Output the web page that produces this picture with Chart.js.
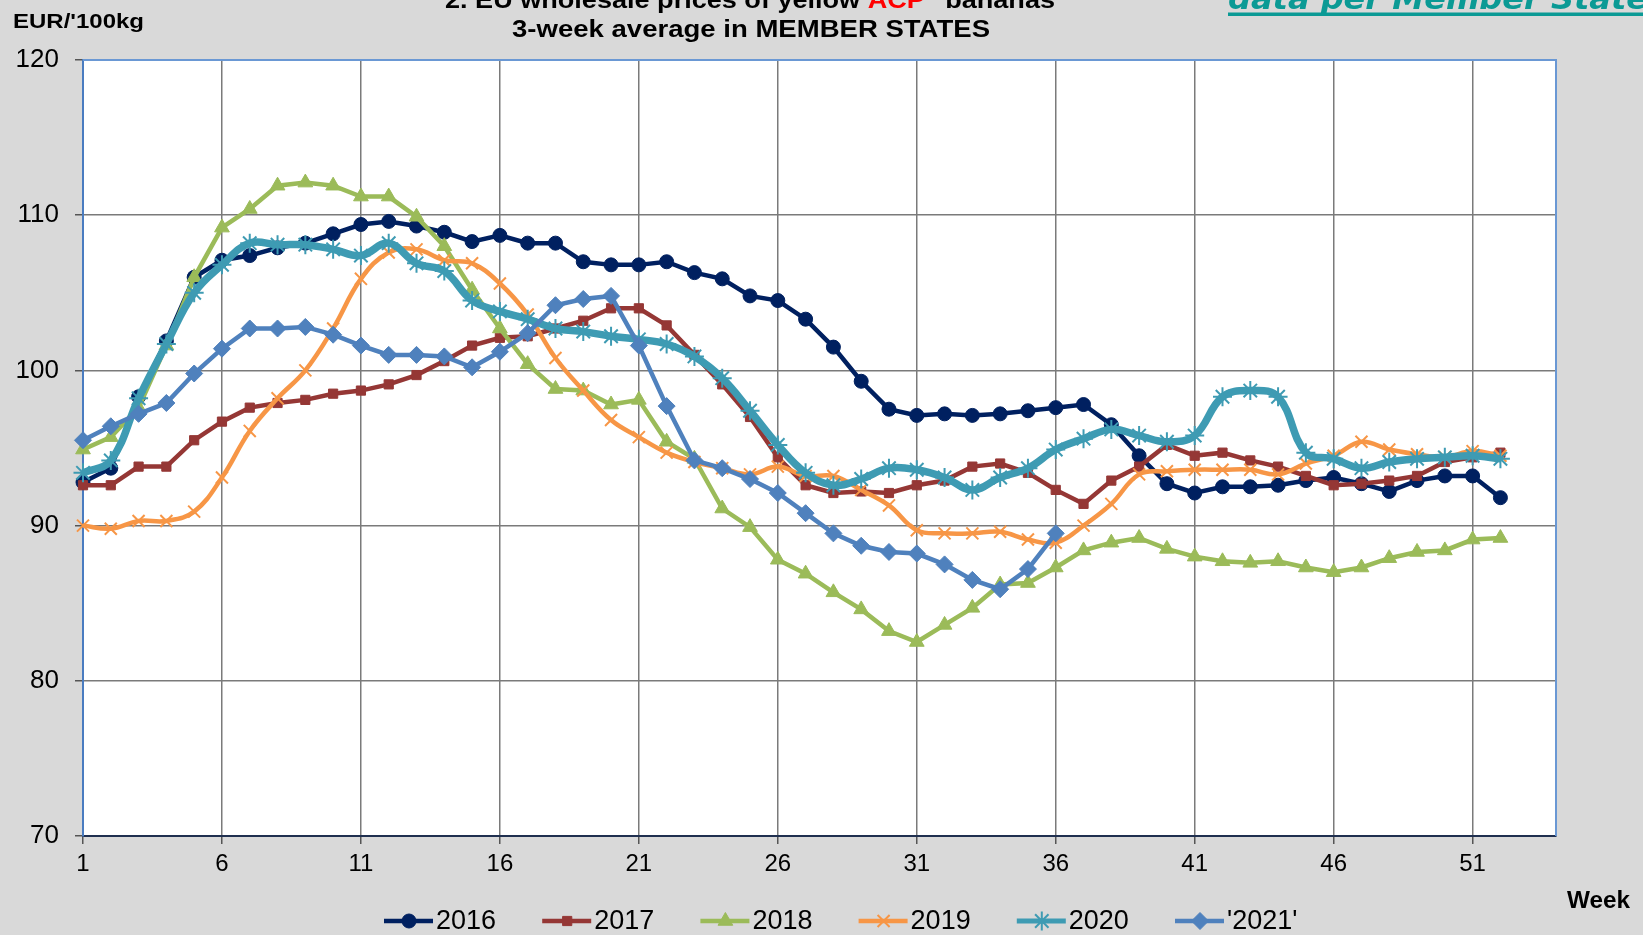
<!DOCTYPE html>
<html>
<head>
<meta charset="utf-8">
<script src="https://cdn.jsdelivr.net/npm/chart.js@4.4.1/dist/chart.umd.min.js"></script>
<style>
  html, body { margin: 0; padding: 0; background: #d9d9d9; }
  #wrap { width: 1643px; height: 935px; }
</style>
</head>
<body>
<div id="wrap"><canvas id="bananaChart" width="1643" height="935"></canvas></div>
<script>
const weeks = [1, 2, 3, 4, 5, 6, 7, 8, 9, 10, 11, 12, 13, 14, 15, 16, 17, 18, 19, 20,
  21, 22, 23, 24, 25, 26, 27, 28, 29, 30, 31, 32, 33, 34, 35, 36, 37, 38, 39, 40,
  41, 42, 43, 44, 45, 46, 47, 48, 49, 50, 51, 52];
const weekTicks = [1, 6, 11, 16, 21, 26, 31, 36, 41, 46, 51];

const p2016 = [92.8, 93.7, 98.3, 101.9, 106.0, 107.1, 107.4, 107.9, 108.2, 108.8,
  109.4, 109.6, 109.3, 108.9, 108.3, 108.7, 108.2, 108.2, 107.0, 106.8,
  106.8, 107.0, 106.3, 105.9, 104.8, 104.5, 103.3, 101.5, 99.3, 97.5,
  97.1, 97.2, 97.1, 97.2, 97.4, 97.6, 97.8, 96.5, 94.5, 92.7,
  92.1, 92.5, 92.5, 92.6, 92.9, 93.1, 92.7, 92.2, 92.9, 93.2, 93.2, 91.8];
const p2017 = [92.6, 92.6, 93.8, 93.8, 95.5, 96.7, 97.6, 97.9, 98.1, 98.5,
  98.7, 99.1, 99.7, 100.6, 101.6, 102.1, 102.2, 102.7, 103.2, 104.0,
  104.0, 102.9, 101.0, 99.1, 97.0, 94.4, 92.6, 92.1, 92.2, 92.1,
  92.6, 92.9, 93.8, 94.0, 93.4, 92.3, 91.4, 92.9, 93.8, 95.2,
  94.5, 94.7, 94.2, 93.8, 93.2, 92.6, 92.7, 92.9, 93.2, 94.1, 94.4, 94.7];
const p2018 = [94.9, 95.7, 97.6, 101.6, 106.0, 109.2, 110.4, 111.9, 112.1, 111.9,
  111.2, 111.2, 109.9, 108.0, 105.2, 102.7, 100.4, 98.8, 98.7, 97.8,
  98.1, 95.4, 94.3, 91.1, 89.9, 87.8, 86.9, 85.7, 84.6, 83.2,
  82.5, 83.6, 84.7, 86.2, 86.3, 87.3, 88.4, 88.9, 89.2, 88.5,
  88.0, 87.7, 87.6, 87.7, 87.3, 87.0, 87.3, 87.9, 88.3, 88.4, 89.1, 89.2];
const p2019 = [90.0, 89.8, 90.3, 90.3, 90.9, 93.1, 96.1, 98.2, 100.0, 102.7,
  105.9, 107.6, 107.8, 107.1, 106.9, 105.6, 103.6, 100.8, 98.7, 96.8,
  95.7, 94.7, 94.1, 93.7, 93.3, 93.8, 93.2, 93.2, 92.3, 91.3,
  89.7, 89.5, 89.5, 89.6, 89.1, 88.9, 90.0, 91.4, 93.3, 93.5,
  93.6, 93.6, 93.6, 93.3, 94.0, 94.5, 95.4, 94.9, 94.6, 94.4, 94.8, 94.5];
const p2020 = [93.4, 94.2, 98.2, 101.7, 105.0, 106.8, 108.2, 108.1, 108.1, 107.8,
  107.4, 108.2, 106.9, 106.4, 104.5, 103.8, 103.3, 102.7, 102.5, 102.2,
  102.0, 101.7, 100.9, 99.5, 97.4, 95.2, 93.4, 92.6, 93.0, 93.7,
  93.6, 93.1, 92.3, 93.1, 93.7, 94.9, 95.6, 96.2, 95.8, 95.4,
  95.8, 98.3, 98.7, 98.3, 94.7, 94.3, 93.7, 94.1, 94.3, 94.4, 94.5, 94.3];
const p2021 = [95.5, 96.4, 97.2, 97.9, 99.8, 101.4, 102.7, 102.7, 102.8, 102.3,
  101.6, 101.0, 101.0, 100.9, 100.2, 101.2, 102.4, 104.2, 104.6, 104.8,
  101.6, 97.7, 94.2, 93.7, 93.0, 92.1, 90.8, 89.5, 88.7, 88.3,
  88.2, 87.5, 86.5, 85.9, 87.2, 89.5];

const seriesNames = ["2016", "2017", "2018", "2019", "2020", "'2021'"];

const FONT = "'Liberation Sans', Arial, sans-serif";
Chart.defaults.font.family = FONT;

function makeSet(label, data, color, style, opts) {
  return Object.assign({
    label: label,
    data: data,
    borderColor: color,
    backgroundColor: color,
    pointBackgroundColor: color,
    pointBorderColor: color,
    borderWidth: 4.5,
    pointStyle: style,
    pointRadius: 7,
    pointBorderWidth: 1,
    tension: 0,
    clip: false,
  }, opts || {});
}

// draw text squeezed/stretched to a given width (the source fonts are wider)
function fitText(ctx, text, x, y, width) {
  const w = ctx.measureText(text).width;
  ctx.save();
  ctx.translate(x, y);
  ctx.scale(width / w, 1);
  ctx.fillText(text, 0, 0);
  ctx.restore();
}

const backdrop = {
  id: "backdrop",
  beforeDraw(chart) {
    const { ctx, chartArea: a } = chart;
    ctx.save();
    ctx.fillStyle = "#d9d9d9";
    ctx.fillRect(0, 0, chart.width, chart.height);
    ctx.fillStyle = "#ffffff";
    ctx.fillRect(a.left, a.top, a.right - a.left, a.bottom - a.top);
    ctx.restore();
  },
  beforeDatasetsDraw(chart) {
    const { ctx, chartArea: a } = chart;
    ctx.save();
    ctx.strokeStyle = "#6a98d4";
    ctx.lineWidth = 2;
    ctx.beginPath();
    ctx.moveTo(a.left, a.top);
    ctx.lineTo(a.right, a.top);
    ctx.lineTo(a.right, a.bottom);
    ctx.stroke();
    ctx.restore();
  },
};

const texts = {
  id: "texts",
  afterDraw(chart) {
    const ctx = chart.ctx;
    ctx.save();
    ctx.textBaseline = "alphabetic";
    ctx.textAlign = "left";

    // title, first line is cut by the top edge
    ctx.font = "bold 23px " + FONT;
    const segs = [
      ["2. EU wholesale prices of yellow ", "#000000"],
      ["ACP", "#ff0000"],
      ["\" bananas", "#000000"],
    ];
    let total = 0;
    segs.forEach((s) => (total += ctx.measureText(s[0]).width));
    const k = 610 / total;
    let x = 750 - 305;
    segs.forEach((s) => {
      const w = ctx.measureText(s[0]).width;
      ctx.fillStyle = s[1];
      fitText(ctx, s[0], x, 8, w * k);
      x += w * k;
    });
    ctx.fillStyle = "#000000";
    fitText(ctx, "3-week average in MEMBER STATES", 512, 37, 478);

    ctx.font = "bold 20px " + FONT;
    fitText(ctx, "EUR/'100kg", 13, 28, 131);

    ctx.font = "bold 23px " + FONT;
    fitText(ctx, "Week", 1567, 908, 63);

    // link text at top right
    ctx.font = "italic bold 30px 'DejaVu Sans', sans-serif";
    ctx.fillStyle = "#0b9a95";
    const lw = ctx.measureText("data per Member State").width;
    const lk = 420 / lw;
    fitText(ctx, "data per Member States", 1228, 9, ctx.measureText("data per Member States").width * lk);
    ctx.fillRect(1228, 12.5, 1643 - 1228, 3.5);

    // legend
    ctx.font = "27px " + FONT;
    ctx.textBaseline = "middle";
    chart.data.datasets.forEach((ds, i) => {
      const x0 = 384 + i * 158.2;
      const y0 = 921;
      ctx.strokeStyle = ds.borderColor;
      ctx.lineWidth = Math.min(ds.borderWidth, 5);
      ctx.beginPath();
      ctx.moveTo(x0, y0);
      ctx.lineTo(x0 + 49, y0);
      ctx.stroke();
      ctx.fillStyle = ds.pointBackgroundColor;
      ctx.lineWidth = ds.pointBorderWidth;
      Chart.helpers.drawPoint(ctx, {
        pointStyle: ds.pointStyle,
        radius: ds.pointRadius,
        borderWidth: ds.pointBorderWidth,
        rotation: 0,
      }, x0 + 25, y0);
      ctx.fillStyle = "#000000";
      ctx.fillText(ds.label, x0 + 52, y0 + 1);
    });
    ctx.restore();
  },
};

function plotBananas() {
  const ctx = document.getElementById("bananaChart").getContext("2d");
  const sets = [
    makeSet(seriesNames[0], p2016, "#002060", "circle", { pointRadius: 7, order: 5 }),
    makeSet(seriesNames[1], p2017, "#953735", "rect", { pointRadius: 6.5, order: 4 }),
    makeSet(seriesNames[2], p2018, "#9bbb59", "triangle", { pointRadius: 8.5, order: 3 }),
    makeSet(seriesNames[3], p2019, "#f79646", "crossRot", { pointRadius: 8.5, pointBorderWidth: 2, tension: 0.4, order: 2 }),
    makeSet(seriesNames[4], p2020, "#3e9bb3", "star", { pointRadius: 9.5, pointBorderWidth: 2, borderWidth: 7.5, tension: 0.4, order: 1 }),
    makeSet(seriesNames[5], p2021, "#4f81bd", "rectRot", { pointRadius: 8.5, order: 0 }),
  ];

  new Chart(ctx, {
    type: "line",
    data: { labels: weeks, datasets: sets },
    options: {
      responsive: false,
      animation: false,
      devicePixelRatio: 1,
      layout: { padding: { left: 0, top: 60, right: 87, bottom: 49 } },
      plugins: {
        legend: { display: false },
        title: { display: false },
        tooltip: { enabled: false },
      },
      scales: {
        x: {
          type: "linear",
          min: 1,
          max: 54,
          afterBuildTicks: (scale) => {
            scale.ticks = weekTicks.map((v) => ({ value: v }));
          },
          afterFit: (scale) => {
            scale.height = 50;
          },
          ticks: { color: "#000", font: { size: 24 }, padding: 6, maxRotation: 0, autoSkip: false },
          grid: { color: "#7a7a7a", lineWidth: 1.5, tickLength: 8, tickColor: "#555555" },
          border: { color: "#1f2f4f", width: 2 },
        },
        y: {
          min: 70,
          max: 120,
          afterFit: (scale) => {
            scale.width = 83;
          },
          ticks: { stepSize: 10, color: "#000", font: { size: 26 }, padding: 16 },
          grid: { color: "#7a7a7a", lineWidth: 1.5, tickLength: 8, tickColor: "#555555" },
          border: { color: "#4a7cc0", width: 2 },
        },
      },
    },
    plugins: [backdrop, texts],
  });
}
plotBananas();
</script>
</body>
</html>
